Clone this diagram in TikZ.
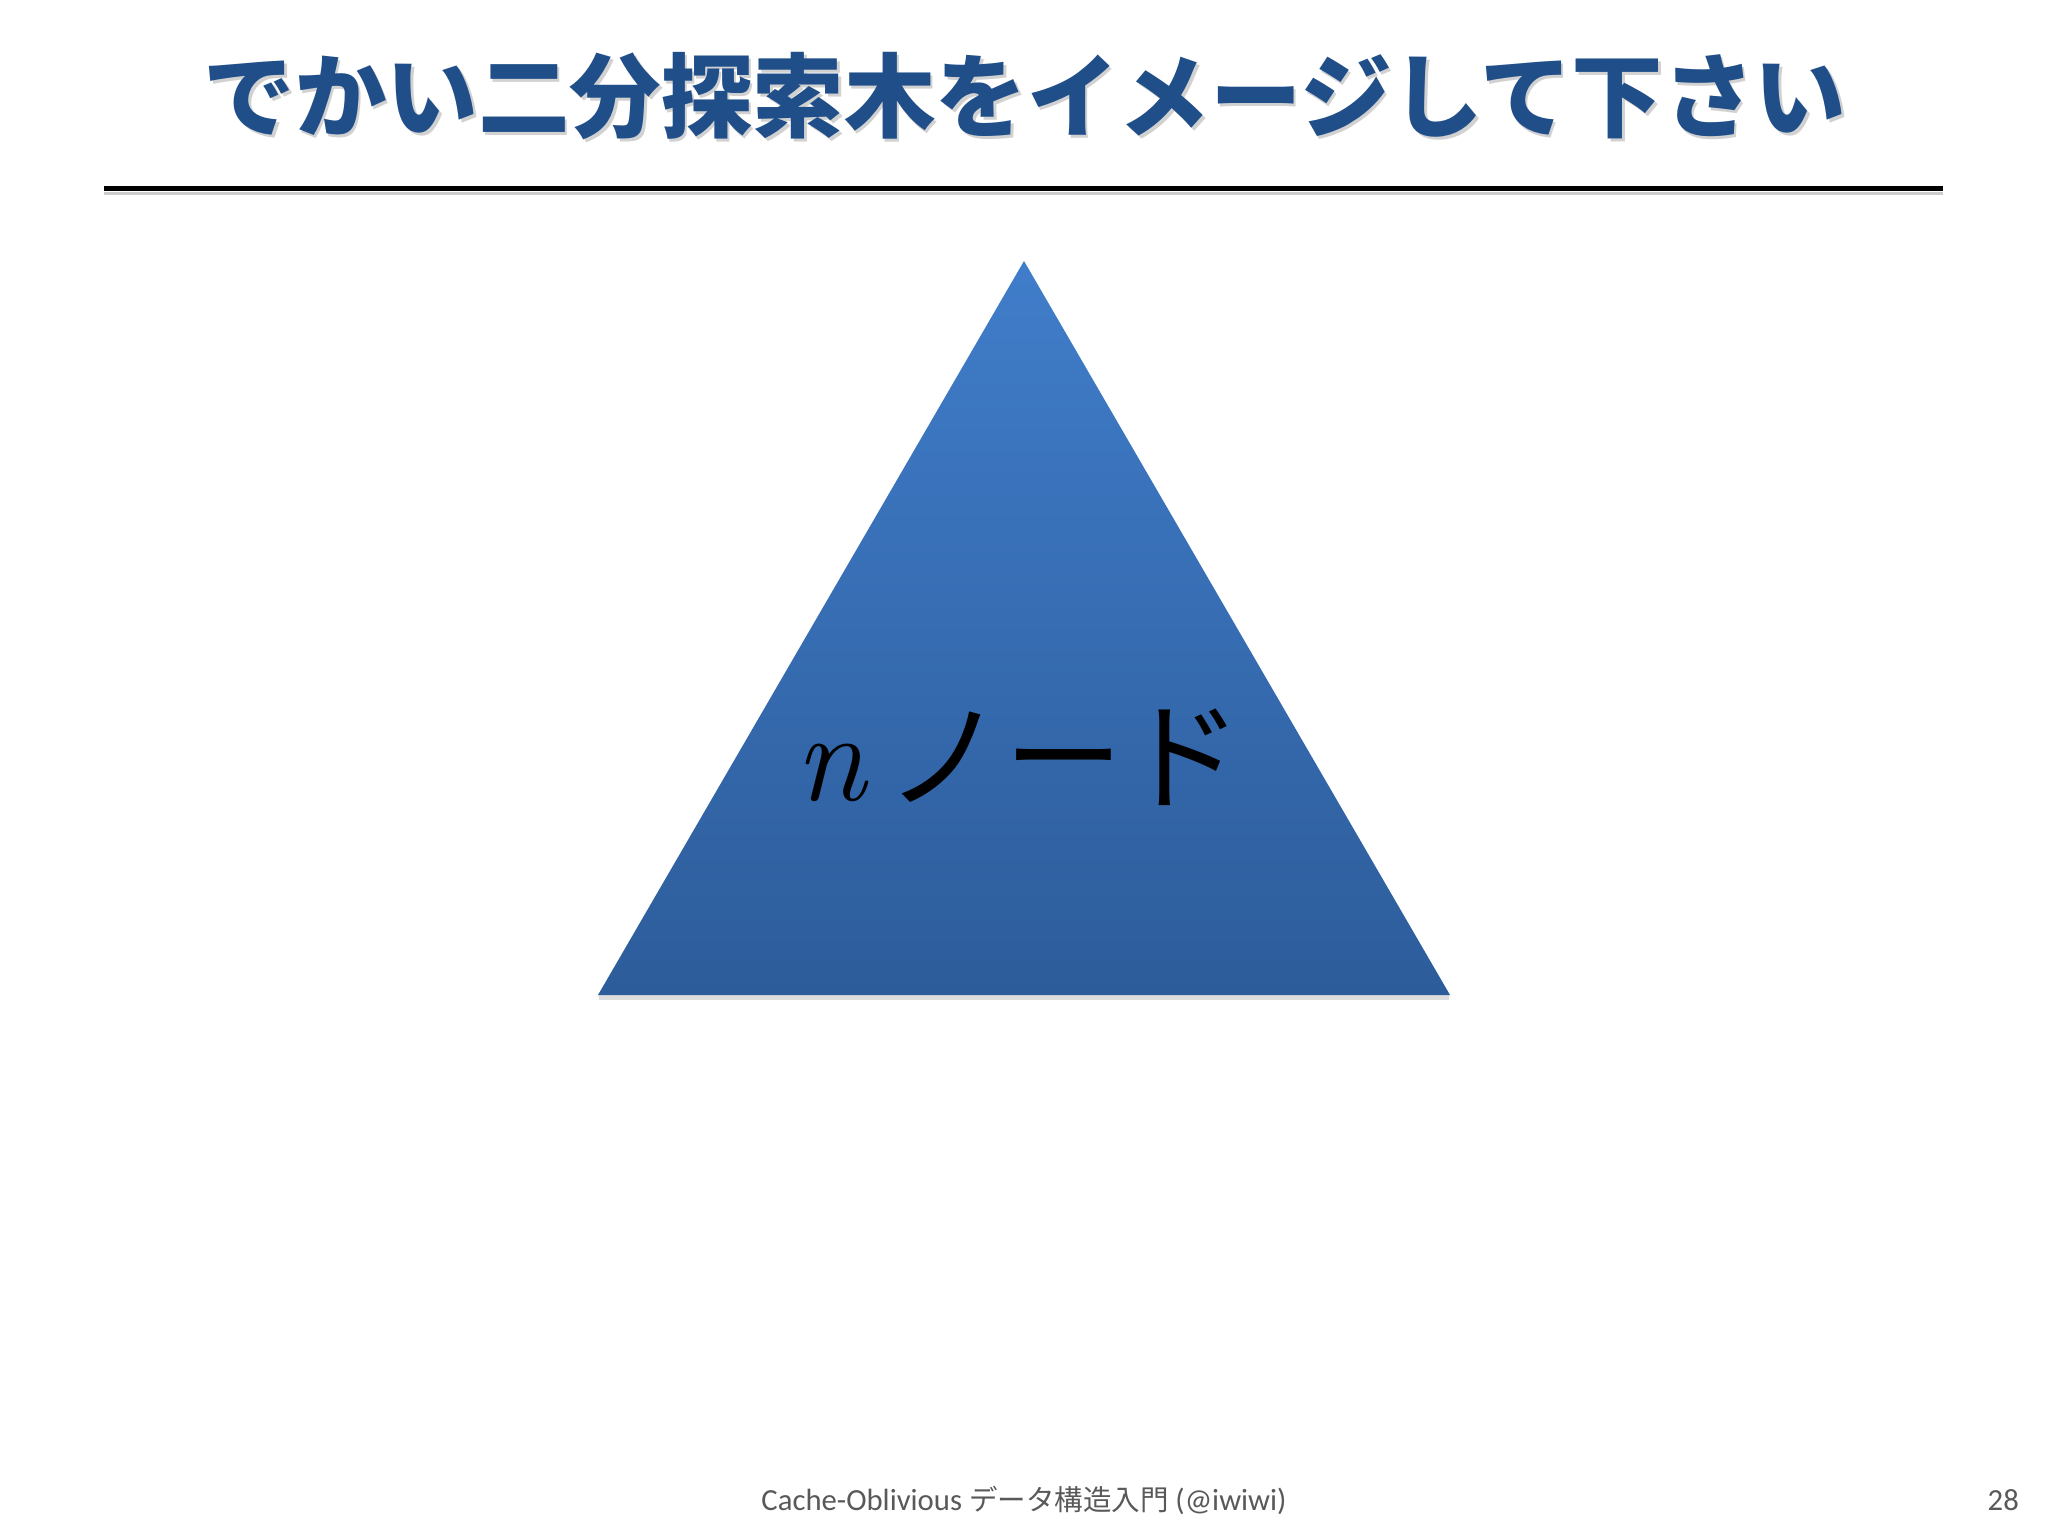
\documentclass[tikz,border=0pt]{standalone}
\usepackage{fontspec}
\newfontfamily\jpfont{Noto Sans CJK JP}
\newfontfamily\carlito{Carlito}
\definecolor{titleblue}{HTML}{1F4E89}
\definecolor{tritop}{HTML}{407DCA}
\definecolor{tribot}{HTML}{2D5C9A}
\definecolor{footgray}{HTML}{595959}
\tikzset{
  titletext/.style={text=titleblue, font=\jpfont\bfseries\fontsize{91.5}{100}\selectfont, inner sep=0pt},
  titleshadow/.style={text=black!18, font=\jpfont\bfseries\fontsize{91.5}{100}\selectfont, inner sep=0pt},
  labeltext/.style={text=black, font=\jpfont\fontsize{119}{130}\selectfont, inner sep=0pt},
  foottext/.style={text=footgray, font=\carlito\fontsize{30.7}{36}\selectfont, inner sep=0pt},
}
\begin{document}
\begin{tikzpicture}[x=1pt,y=-1pt]
\useasboundingbox (0,0) rectangle (2048,1536);
\fill[white] (0,0) rectangle (2048,1536);
% title
\node[titleshadow, anchor=base] (titleshadow) at (1027.5,133.5) {でかい二分探索木をイメージして下さい};
\node[titletext, anchor=base] (title) at (1025,131) {でかい二分探索木をイメージして下さい};
% rule
\draw[line width=3pt, black!20] (104,193) -- (1943,193);
\draw[line width=5pt, black] (104,188) coordinate (ruleL) -- (1943,188) coordinate (ruleR);
% triangle
\coordinate (apex) at (1024,261);
\coordinate (bl) at (598,995);
\coordinate (br) at (1450,995);
\fill[black!25, opacity=0.5] (599,1000) -- (1449,1000) -- (1449,993) -- (599,993) -- cycle;
\shade[top color=tritop, bottom color=tribot] (apex) -- (br) -- (bl) -- cycle;
\node[labeltext, anchor=base] (label) at (1019,800) {{\rmfamily\itshape\fontsize{128}{130}\selectfont n}\,ノード};
% footer
\node[foottext, anchor=base] (footer) at (1024,1510) {Cache-Oblivious {\jpfont\fontsize{28.5}{36}\selectfont データ構造入門} (@iwiwi)};
\node[foottext, anchor=base east] (pagenum) at (2019,1510) {28};
\end{tikzpicture}
\end{document}
